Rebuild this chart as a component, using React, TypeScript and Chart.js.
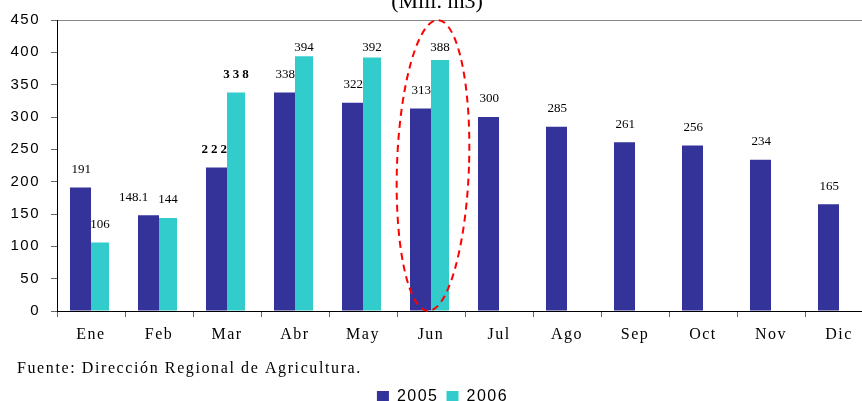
import React, { useEffect, useRef } from 'react';
import { Chart, registerables } from 'chart.js';

Chart.register(...registerables);

const months = ['Ene', 'Feb', 'Mar', 'Abr', 'May', 'Jun', 'Jul', 'Ago', 'Sep', 'Oct', 'Nov', 'Dic'];
const values2005: (number | null)[] = [191, 148.1, 222, 338, 322, 313, 300, 285, 261, 256, 234, 165];
const values2006: (number | null)[] = [106, 144, 338, 394, 392, 388, null, null, null, null, null, null];
const seriesNames = ['2005', '2006'];
const yMin = 0;
const yMax = 450;
const yStep = 50;
const unitTitle = '(Mill. m3)';
const sourceNote = 'Fuente: Dirección Regional de Agricultura.';
const highlightMonth = 'Jun';
const boldMonth = 'Mar';

const SERIF = '"Liberation Serif", "Times New Roman", serif';
const SANS = '"Liberation Sans", Arial, sans-serif';

const decoPlugin = {
  id: 'deco',
  beforeDraw(chart: any) {
    chart.ctx.letterSpacing = '1.5px';
  },
  afterDatasetsDraw(chart: any) {
    const ctx = chart.ctx;
    const top = chart.chartArea.top;
    const metaA = chart.getDatasetMeta(0);
    const metaB = chart.getDatasetMeta(1);
    const dsA = chart.data.datasets[0].data;
    const dsB = chart.data.datasets[1].data;
    const setFont = (bold: boolean) => {
      ctx.letterSpacing = bold ? '3px' : '0px';
      ctx.font = `${bold ? 'bold ' : ''}13px ${SERIF}`;
    };
    months.forEach((m, i) => {
      const bold = m === boldMonth;
      const spacing = bold ? 3 : 0;
      ctx.save();
      ctx.fillStyle = '#000';
      ctx.textBaseline = 'middle';
      setFont(bold);
      let cyanLeft = Infinity;
      let cyanY = -1000;
      const vb = dsB[i];
      if (vb != null) {
        const bar = metaB.data[i];
        const t = String(vb);
        const w = ctx.measureText(t).width;
        cyanY = Math.max(bar.y - 18, top + 28);
        const cx = bar.x + spacing / 2;
        cyanLeft = cx - w / 2;
        ctx.textAlign = 'center';
        ctx.fillText(t, cx, cyanY);
      }
      const va = dsA[i];
      if (va != null) {
        const bar = metaA.data[i];
        const t = String(va);
        const y = Math.max(bar.y - 18, top + 28);
        let right = bar.x + bar.width / 2 + spacing;
        if (Math.abs(y - cyanY) < 13 && right > cyanLeft - 10) right = cyanLeft - 10;
        ctx.textAlign = 'right';
        ctx.fillText(t, right, y);
      }
      ctx.restore();
    });
  },
  afterDraw(chart: any) {
    const ctx = chart.ctx;
    const xs = chart.scales.x;
    const ys = chart.scales.y;
    // unit title (cut at top)
    ctx.save();
    ctx.letterSpacing = '0px';
    ctx.font = `22px ${SERIF}`;
    ctx.fillStyle = '#000';
    ctx.textAlign = 'center';
    ctx.textBaseline = 'alphabetic';
    ctx.fillText(unitTitle, 437, 8);
    // source note
    ctx.letterSpacing = '1.6px';
    ctx.font = `16px ${SERIF}`;
    ctx.textAlign = 'left';
    ctx.textBaseline = 'middle';
    ctx.fillText(sourceNote, 17, 369);
    ctx.restore();
    // highlight ellipse around June
    const idx = months.indexOf(highlightMonth);
    const cx = xs.getPixelForValue(idx) + 2;
    const cy = (ys.getPixelForValue(yMax) + ys.getPixelForValue(yMin)) / 2;
    const ry = (ys.getPixelForValue(yMin) - ys.getPixelForValue(yMax)) / 2;
    ctx.save();
    ctx.strokeStyle = '#ff0000';
    ctx.lineWidth = 2;
    ctx.setLineDash([7, 5]);
    ctx.beginPath();
    ctx.ellipse(cx, cy, 36, ry, 0.035, 0, Math.PI * 2);
    ctx.stroke();
    ctx.restore();
    ctx.letterSpacing = '0px';
  },
};

export default function App() {
  const ref = useRef<HTMLCanvasElement>(null);
  useEffect(() => {
    const chart = new Chart(ref.current as HTMLCanvasElement, {
      type: 'bar',
      data: {
        labels: months,
        datasets: [
          {
            label: seriesNames[0],
            data: values2005,
            backgroundColor: '#333399',
            categoryPercentage: 0.618,
            barPercentage: 1,
          },
          {
            label: seriesNames[1],
            data: values2006,
            backgroundColor: '#33CCCC',
            categoryPercentage: 0.53,
            barPercentage: 1,
          },
        ],
      },
      options: {
        responsive: false,
        animation: false,
        layout: { padding: { top: 19, left: 0, right: 7, bottom: 0 } },
        plugins: {
          legend: {
            position: 'bottom',
            labels: {
              boxWidth: 12,
              boxHeight: 12,
              padding: 8,
              color: '#000',
              font: { family: SANS, size: 16 },
            },
          },
          tooltip: { enabled: false },
          title: { display: false },
        },
        scales: {
          x: {
            grid: { drawOnChartArea: false, drawTicks: true, tickLength: 6, tickColor: '#666', offset: true },
            border: { color: '#000', width: 1 },
            ticks: { color: '#000', padding: 8, font: { family: SERIF, size: 16 } },
            afterFit(s: any) {
              s.height = 70;
            },
          },
          y: {
            min: yMin,
            max: yMax,
            ticks: { stepSize: yStep, color: '#000', padding: 11, font: { family: SANS, size: 15 } },
            grid: {
              color: (c: any) => (c.tick && c.tick.value === yMax ? '#888' : 'rgba(0,0,0,0)'),
              tickColor: '#666',
              tickLength: 6,
            },
            border: { color: '#000', width: 1 },
            afterFit(s: any) {
              s.width = 57;
            },
          },
        },
      } as any,
      plugins: [decoPlugin],
    });
    return () => chart.destroy();
  }, []);
  return (
    <div
      style={{
        position: 'fixed',
        left: 0,
        top: 0,
        width: 862,
        height: 401,
        overflow: 'hidden',
        background: '#fff',
      }}
    >
      <canvas ref={ref} width={880} height={415} style={{ display: 'block' }} />
    </div>
  );
}
